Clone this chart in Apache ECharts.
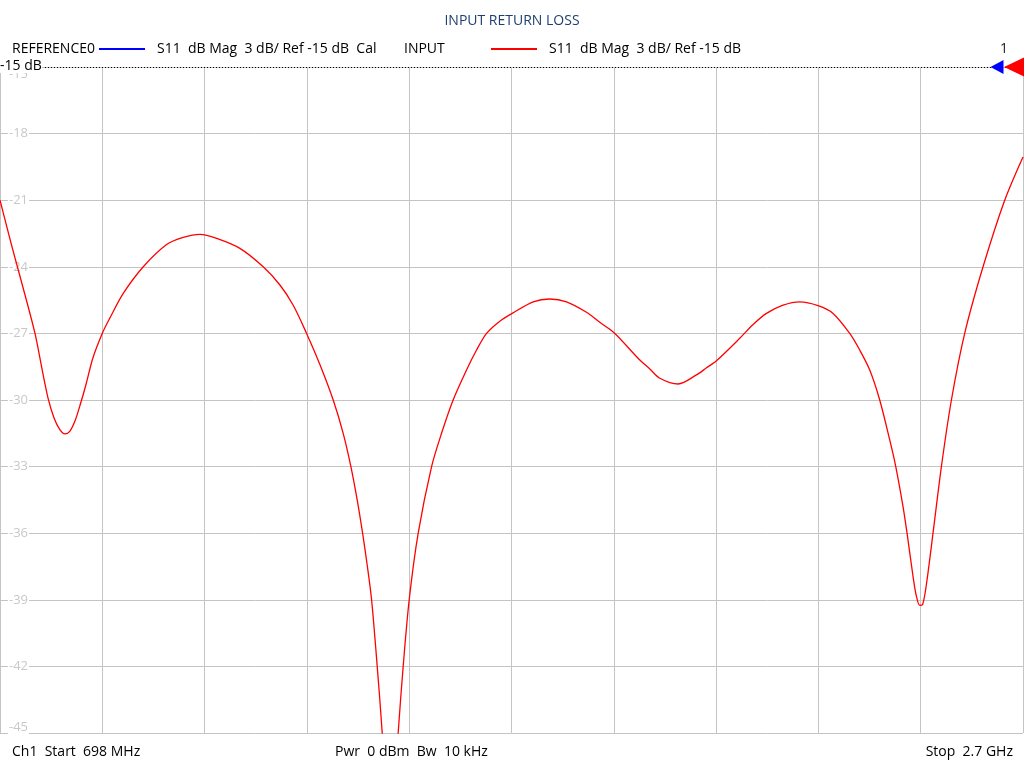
<!DOCTYPE html>
<html>
<head>
<meta charset="utf-8">
<script src="https://cdn.jsdelivr.net/npm/echarts@6/dist/echarts.min.js"></script>
<style>
html,body{margin:0;padding:0;background:#fff;}
#chart{width:1024px;height:768px;}
</style>
</head>
<body>
<div id="chart"></div>
<script>
// Frequency (MHz) of each sampled point
var freqMHz = [698.0, 721.5, 745.0, 766.5, 780.2, 791.9, 803.6, 815.4, 825.2, 834.9,
  844.7, 854.5, 866.3, 879.9, 898.1, 913.2, 939.2, 978.4, 1024.1, 1056.6,
  1089.3, 1122.0, 1167.5, 1213.1, 1245.8, 1271.8, 1298.0, 1324.0, 1350.1, 1369.6,
  1384.7, 1397.0, 1407.6, 1417.0, 1425.2, 1436.2, 1446.0, 1453.2, 1461.0, 1468.8,
  1477.2, 1487.0, 1498.8, 1516.4, 1542.6, 1562.1, 1584.8, 1611.0, 1630.6, 1650.2,
  1676.2, 1700.3, 1741.4, 1774.0, 1806.7, 1845.8, 1871.8, 1899.8, 1950.1, 1969.7,
  1989.2, 2025.0, 2061.0, 2080.6, 2100.2, 2145.7, 2171.8, 2198.0, 2230.5, 2263.1,
  2298.9, 2328.3, 2360.9, 2380.5, 2400.1, 2419.6, 2439.2, 2451.0, 2465.2, 2473.1,
  2484.8, 2491.0, 2497.9, 2503.8, 2511.0, 2523.9, 2540.3, 2559.9, 2585.9, 2621.8,
  2664.2, 2700.0];
// S11 magnitude (dB) of the INPUT trace
var s11dB = [-21.0, -23.1, -25.1, -27.0, -28.6, -29.9, -30.8, -31.35, -31.53, -31.4,
  -30.95, -30.25, -29.3, -28.1, -27.0, -26.3, -25.2, -24.0, -23.0, -22.68,
  -22.54, -22.72, -23.17, -24.0, -24.82, -25.73, -27.0, -28.4, -30.0, -31.5,
  -33.0, -34.5, -36.0, -37.5, -39.0, -42.0, -45.0, -48.0, -49.5, -48.0,
  -45.0, -42.0, -39.0, -36.0, -33.0, -31.5, -30.0, -28.65, -27.75, -27.0,
  -26.45, -26.1, -25.58, -25.45, -25.58, -26.05, -26.5, -26.97, -28.2, -28.6,
  -29.02, -29.28, -28.87, -28.55, -28.23, -27.22, -26.6, -26.1, -25.73, -25.58,
  -25.75, -26.1, -27.0, -27.75, -28.65, -30.0, -31.8, -33.0, -34.8, -36.0,
  -37.95, -38.8, -39.25, -39.2, -38.3, -36.0, -33.0, -30.0, -27.0, -24.0,
  -21.0, -19.05];
var startMHz = 698, stopMHz = 2700;
var refLevel = -15, scaleDiv = 3, bottomLevel = -45;
var divisionsX = 10;
var titleText = 'INPUT RETURN LOSS';
var refTraceName = 'REFERENCE0', refTraceDesc = 'S11  dB Mag  3 dB/ Ref -15 dB  Cal';
var inTraceName = 'INPUT', inTraceDesc = 'S11  dB Mag  3 dB/ Ref -15 dB';
var footLeft = 'Ch1  Start  698 MHz', footMid = 'Pwr  0 dBm  Bw  10 kHz', footRight = 'Stop  2.7 GHz';

var FONT = '"Open Sans", "Noto Sans", sans-serif';
var data = freqMHz.map(function (f, i) { return [f, s11dB[i]]; });

var chart = echarts.init(document.getElementById('chart'), null, {renderer: 'canvas'});
var txt = function (x, y, s, opt) {
  return Object.assign({type: 'text', x: x, y: y, z: 100,
    style: Object.assign({text: s, fill: '#000', font: '14px ' + FONT, verticalAlign: 'middle'}, opt || {})});
};
chart.setOption({
  animation: false,
  backgroundColor: '#fff',
  grid: {left: 0, right: 1, top: 67, bottom: 35, containLabel: false},
  xAxis: [
    {type: 'value', min: startMHz, max: stopMHz, show: true,
      axisLine: {show: false}, axisTick: {show: false}, axisLabel: {show: false}, splitLine: {show: false}},
    {type: 'value', min: 0, max: divisionsX, interval: 1, position: 'top',
      axisLine: {show: false}, axisTick: {show: false}, axisLabel: {show: false},
      splitLine: {show: true, lineStyle: {color: '#c4c4c4', width: 1}}}
  ],
  yAxis: {
    type: 'value', min: bottomLevel, max: refLevel, interval: scaleDiv,
    axisLine: {show: false}, axisTick: {show: false},
    splitLine: {show: true, lineStyle: {color: '#c4c4c4', width: 1}},
    axisLabel: {
      inside: true, margin: 8, color: '#c8c8c8', fontSize: 13, fontFamily: FONT,
      backgroundColor: '#fff', padding: [0, 1],
      formatter: function (v) {
        if (v === refLevel) return '{dn|' + v + '}';
        if (v === bottomLevel) return '{up|' + v + '}';
        return String(v);
      },
      rich: {
        dn: {padding: [14, 0, 0, 0], color: '#c8c8c8', fontSize: 13, fontFamily: FONT},
        up: {padding: [0, 0, 12, 0], color: '#c8c8c8', fontSize: 13, fontFamily: FONT}
      }
    }
  },
  series: [{
    name: inTraceName, type: 'line', xAxisIndex: 0, data: data,
    showSymbol: false, smooth: 0.3, clip: true,
    lineStyle: {color: '#ff0000', width: 1.3}, itemStyle: {color: '#ff0000'},
    markLine: {
      silent: true, symbol: 'none', label: {show: false},
      lineStyle: {color: '#000', type: [1, 2], width: 1},
      data: [{yAxis: refLevel}]
    },
    markPoint: {
      silent: true, label: {show: false},
      data: [
        {coord: [stopMHz, refLevel], symbol: 'triangle', symbolRotate: 90, symbolSize: [14, 13],
          symbolOffset: [-26, 0], itemStyle: {color: '#0000ff'}},
        {coord: [stopMHz, refLevel], symbol: 'triangle', symbolRotate: 90, symbolSize: [19, 20],
          symbolOffset: [-9, 0], itemStyle: {color: '#ff0000'}}
      ]
    }
  }],
  graphic: [
    txt(512, 21, titleText, {fill: '#1f3f6f', align: 'center'}),
    txt(12, 49, refTraceName),
    {type: 'line', z: 100, shape: {x1: 99, y1: 49, x2: 145, y2: 49}, style: {stroke: '#0000ff', lineWidth: 2}},
    txt(157, 49, refTraceDesc),
    txt(404, 49, inTraceName),
    {type: 'line', z: 100, shape: {x1: 491, y1: 49, x2: 537, y2: 49}, style: {stroke: '#ff0000', lineWidth: 2}},
    txt(549, 49, inTraceDesc),
    txt(1004, 49, '1', {align: 'center', fill: '#222'}),
    txt(0, 66, '-15 dB', {backgroundColor: '#fff', padding: [0, 1, 0, 0]}),
    txt(12, 752, footLeft),
    txt(335, 752, footMid),
    txt(1013, 752, footRight, {align: 'right'})
  ]
});
</script>
</body>
</html>
